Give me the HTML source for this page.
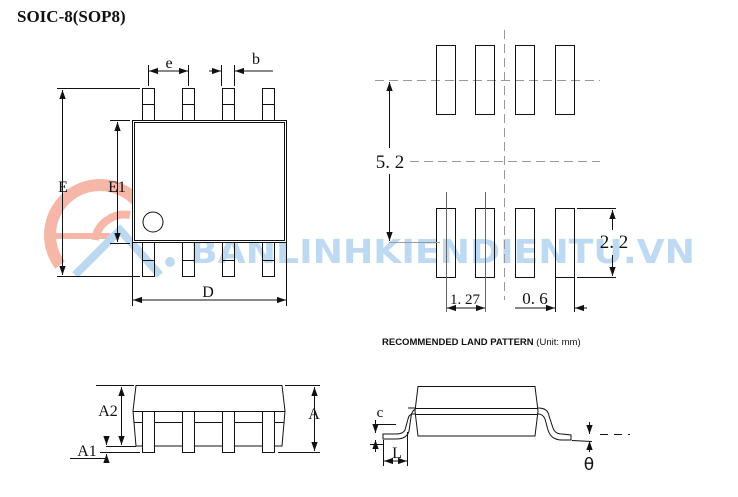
<!DOCTYPE html>
<html><head><meta charset="utf-8"><style>
html,body{margin:0;padding:0;background:#fff;width:738px;height:497px;overflow:hidden}
svg{display:block}
.s{font-family:"Liberation Serif",serif;fill:#111}
</style></head><body>
<svg width="738" height="497" viewBox="0 0 738 497" xmlns="http://www.w3.org/2000/svg">
<defs>
<marker id="a" viewBox="0 0 10 10" refX="10" refY="5" markerWidth="9" markerHeight="9" markerUnits="userSpaceOnUse" orient="auto-start-reverse"><path d="M0,1.5 L10,5 L0,8.5 z" fill="#111"/></marker>
</defs>
<!-- watermark -->
<g opacity="0.75">
<path d="M60,265 A45,45 0 0 1 140,205" stroke="#f4a08c" stroke-width="12" fill="none"/>
<path d="M95,240 A30,30 0 0 1 130,215" stroke="#f4a08c" stroke-width="8" fill="none"/>
<line x1="45" y1="236" x2="110" y2="236" stroke="#f4a08c" stroke-width="6"/>
<circle cx="50" cy="236" r="6" fill="#f4a08c"/>
<path d="M75,275 L120,230 L160,275" stroke="#a8cdec" stroke-width="8" fill="none"/>
<circle cx="170" cy="262" r="5" fill="#a8cdec"/>
<text x="190" y="263" font-family="'DejaVu Sans',sans-serif" font-weight="bold" font-size="33" fill="#a9cdee" textLength="505" lengthAdjust="spacingAndGlyphs">BANLINHKIENDIENTU.VN</text>
</g>
<text x="17" y="22" font-family="'Liberation Serif',serif" font-weight="bold" font-size="17" fill="#111">SOIC-8(SOP8)</text>
<g stroke="#111" stroke-width="1" fill="none">
<rect x="142.5" y="88.5" width="12" height="32"/><line x1="142" y1="104.5" x2="155" y2="104.5"/>
<rect x="182.5" y="88.5" width="12" height="32"/><line x1="182" y1="104.5" x2="195" y2="104.5"/>
<rect x="222.5" y="88.5" width="12" height="32"/><line x1="222" y1="104.5" x2="235" y2="104.5"/>
<rect x="262.5" y="88.5" width="12" height="32"/><line x1="262" y1="104.5" x2="275" y2="104.5"/>
<rect x="142.5" y="242.5" width="12" height="34"/><line x1="142" y1="260.5" x2="155" y2="260.5"/>
<rect x="182.5" y="242.5" width="12" height="34"/><line x1="182" y1="260.5" x2="195" y2="260.5"/>
<rect x="222.5" y="242.5" width="12" height="34"/><line x1="222" y1="260.5" x2="235" y2="260.5"/>
<rect x="262.5" y="242.5" width="12" height="34"/><line x1="262" y1="260.5" x2="275" y2="260.5"/>
<rect x="132.5" y="120.5" width="154" height="122" fill="#fff"/>
<rect x="134.5" y="122.5" width="150" height="118"/>
<circle cx="153" cy="222" r="10"/>
<line x1="57" y1="88.5" x2="140" y2="88.5"/><line x1="57" y1="276.5" x2="140" y2="276.5"/>
<line x1="62.5" y1="90" x2="62.5" y2="275" marker-start="url(#a)" marker-end="url(#a)"/>
<line x1="110" y1="120.5" x2="130" y2="120.5"/><line x1="110" y1="243.5" x2="130" y2="243.5"/>
<line x1="117.5" y1="122" x2="117.5" y2="242" marker-start="url(#a)" marker-end="url(#a)"/>
<line x1="148.5" y1="65" x2="148.5" y2="86"/><line x1="188.5" y1="65" x2="188.5" y2="86"/>
<line x1="149" y1="71" x2="188" y2="71" marker-start="url(#a)" marker-end="url(#a)"/>
<line x1="221.5" y1="65" x2="221.5" y2="86"/><line x1="234.5" y1="65" x2="234.5" y2="86"/>
<line x1="209" y1="71" x2="221" y2="71" marker-end="url(#a)"/>
<line x1="273" y1="71" x2="235" y2="71" marker-end="url(#a)"/>
<line x1="132.5" y1="243" x2="132.5" y2="306"/><line x1="286.5" y1="243" x2="286.5" y2="306"/>
<line x1="133" y1="300" x2="286" y2="300" marker-start="url(#a)" marker-end="url(#a)"/>
</g>
<text class="s" x="63" y="192" font-size="16" text-anchor="middle">E</text>
<text class="s" x="117" y="192" font-size="16" text-anchor="middle">E1</text>
<text class="s" x="169" y="68" font-size="16" text-anchor="middle">e</text>
<text class="s" x="256" y="64" font-size="16" text-anchor="middle">b</text>
<text class="s" x="208" y="297" font-size="16" text-anchor="middle">D</text>
<g stroke="#999" stroke-width="1" stroke-dasharray="9,5" fill="none">
<line x1="504.5" y1="30" x2="504.5" y2="300"/>
<line x1="375" y1="80.5" x2="600" y2="80.5"/>
<line x1="410" y1="161.5" x2="600" y2="161.5"/>
</g>
<g stroke="#111" stroke-width="1" fill="none">
<rect x="436.5" y="45.5" width="19" height="69"/><rect x="475.5" y="45.5" width="19" height="69"/>
<rect x="515.5" y="45.5" width="19" height="69"/><rect x="555.5" y="45.5" width="19" height="69"/>
<rect x="436.5" y="208.5" width="19" height="69"/><rect x="475.5" y="208.5" width="19" height="69"/>
<rect x="515.5" y="208.5" width="19" height="69"/><rect x="555.5" y="208.5" width="19" height="69"/>
<line x1="389.5" y1="82" x2="389.5" y2="148" marker-start="url(#a)"/>
<line x1="389.5" y1="174" x2="389.5" y2="241" marker-end="url(#a)"/>
<line x1="389" y1="242.5" x2="440" y2="242.5" stroke="#999"/>
<line x1="446.5" y1="192" x2="446.5" y2="312" stroke="#666"/><line x1="485.5" y1="192" x2="485.5" y2="312" stroke="#666"/>
<line x1="447" y1="308" x2="485" y2="308" marker-start="url(#a)" marker-end="url(#a)"/>
<line x1="555.5" y1="278" x2="555.5" y2="312"/><line x1="574.5" y1="278" x2="574.5" y2="312"/>
<line x1="515" y1="308" x2="555" y2="308" marker-end="url(#a)"/>
<line x1="587" y1="308" x2="575" y2="308" marker-end="url(#a)"/>
<line x1="577" y1="208.5" x2="616" y2="208.5"/><line x1="577" y1="277.5" x2="616" y2="277.5"/>
<line x1="612.5" y1="210" x2="612.5" y2="230" marker-start="url(#a)"/>
<line x1="612.5" y1="255" x2="612.5" y2="276" marker-end="url(#a)"/>
</g>
<text class="s" x="390" y="168" font-size="19" text-anchor="middle">5. 2</text>
<text class="s" x="614" y="248" font-size="19" text-anchor="middle">2. 2</text>
<text class="s" x="465" y="304" font-size="15" text-anchor="middle">1. 27</text>
<text class="s" x="535" y="304" font-size="17" text-anchor="middle">0. 6</text>
<text x="382" y="345" font-family="'Liberation Sans',sans-serif" font-size="9.5" fill="#111"><tspan font-weight="bold">RECOMMENDED LAND PATTERN</tspan> (Unit: mm)</text>
<g stroke="#111" stroke-width="1" fill="#fff">
<path d="M136,385.5 L282,385.5 L285,411 L282,446 L136,446 L133,411 Z"/>
<line x1="133" y1="411.5" x2="285" y2="411.5"/>
<line x1="134" y1="422.5" x2="284" y2="422.5"/>
<rect x="142.5" y="411.5" width="12" height="41"/>
<rect x="182.5" y="411.5" width="12" height="41"/>
<rect x="222.5" y="411.5" width="12" height="41"/>
<rect x="262.5" y="411.5" width="12" height="41"/>
</g>
<g stroke="#111" stroke-width="1" fill="none">
<line x1="96" y1="385.5" x2="134" y2="385.5"/>
<line x1="285" y1="385.5" x2="320" y2="385.5"/>
<line x1="278" y1="452.5" x2="320" y2="452.5"/>
<line x1="106" y1="446.5" x2="136" y2="446.5"/>
<line x1="100" y1="452.5" x2="140" y2="452.5"/>
<line x1="121.5" y1="387" x2="121.5" y2="445" marker-start="url(#a)" marker-end="url(#a)"/>
<line x1="314.5" y1="387" x2="314.5" y2="451" marker-start="url(#a)" marker-end="url(#a)"/>
<line x1="106.5" y1="436" x2="106.5" y2="445" marker-end="url(#a)"/>
<line x1="106.5" y1="463" x2="106.5" y2="454" marker-end="url(#a)"/>
<line x1="70" y1="458.5" x2="106" y2="458.5"/>
</g>
<text class="s" x="108" y="416" font-size="16" text-anchor="middle">A2</text>
<text class="s" x="314" y="419" font-size="16" text-anchor="middle">A</text>
<text class="s" x="87" y="456" font-size="16" text-anchor="middle">A1</text>
<g stroke="#111" stroke-width="1" fill="#fff">
<path d="M408,408 L538,408 Q548,408 549,416 L553,428 Q555,434 562,434 L571,435 L571,440 L562,440 Q551,440 548,430 L545,419 Q543,414 538,414 L413,414 Q409,414 408,419 L405,430 Q403,434 396,434 L383,434 L383,439 L396,439 Q407,439 409,431 L411,417 Q412,408 420,408 Z"/>
<path d="M418,386.5 L535,386.5 L538,411 L535,436 L418,436 L415,411 Z"/>
<line x1="415" y1="408.5" x2="538" y2="408.5"/>
<line x1="416" y1="414.5" x2="537" y2="414.5"/>
</g>
<g stroke="#111" stroke-width="1" fill="none">
<line x1="375" y1="424.5" x2="396" y2="424.5"/>
<line x1="370" y1="444.5" x2="383" y2="444.5"/>
<line x1="375.5" y1="420" x2="375.5" y2="433" marker-end="url(#a)"/>
<line x1="375.5" y1="452" x2="375.5" y2="440" marker-end="url(#a)"/>
<line x1="383.5" y1="440" x2="383.5" y2="466"/>
<line x1="407.5" y1="432" x2="407.5" y2="466"/>
<line x1="384" y1="461" x2="407" y2="461" marker-start="url(#a)" marker-end="url(#a)"/>
<line x1="600" y1="434.5" x2="630" y2="434.5" stroke-dasharray="8,6"/>
<line x1="572" y1="440.5" x2="592" y2="441.5"/>
<line x1="589.5" y1="422" x2="589.5" y2="434" marker-end="url(#a)"/>
<line x1="589.5" y1="452" x2="589.5" y2="441" marker-end="url(#a)"/>
</g>
<text class="s" x="380" y="417" font-size="15" text-anchor="middle">c</text>
<text class="s" x="397" y="458" font-size="16" text-anchor="middle">L</text>
<text x="589" y="470" font-family="'DejaVu Sans',sans-serif" font-size="17" fill="#111" text-anchor="middle">θ</text>
</svg>
</body></html>
